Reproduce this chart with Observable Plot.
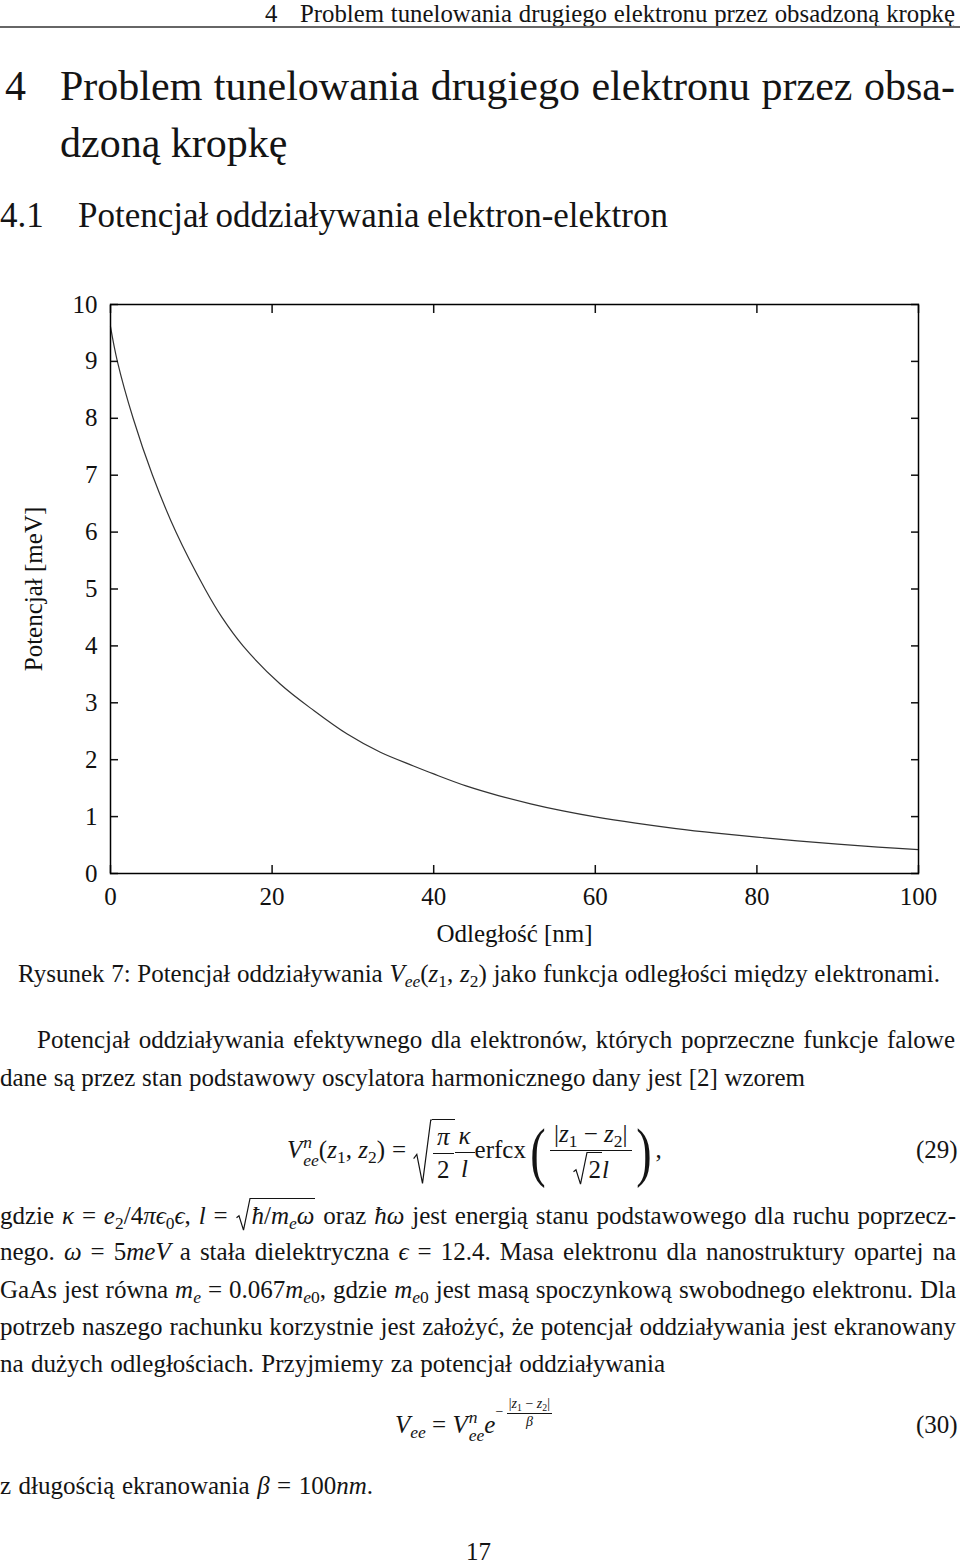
<!DOCTYPE html>
<html lang="pl"><head><meta charset="utf-8">
<script src="https://cdn.jsdelivr.net/npm/d3@7"></script>
<script src="https://cdn.jsdelivr.net/npm/@observablehq/plot@0.6"></script>
<style>
html,body{margin:0;padding:0;background:#fff;}
#page{position:relative;width:960px;height:1566px;overflow:hidden;font-family:"Liberation Serif","Times New Roman",serif;color:#141414;}
.ln{position:absolute;white-space:nowrap;font-size:25px;line-height:32.5px;}
.h1{font-size:42px;line-height:54px;}
.h2{font-size:35px;line-height:45px;}
.hd{font-size:24.8px;line-height:26px;}
sub{font-size:0.7em;vertical-align:-0.3em;line-height:0;}
sup{font-size:0.7em;vertical-align:0.45em;line-height:0;}
.ss{display:inline-flex;flex-direction:column;font-size:0.7em;line-height:1.0;vertical-align:0.55em;margin-left:1px;}
.op{margin:0 7px;}
.frac{display:inline-flex;flex-direction:column;align-items:center;vertical-align:middle;line-height:1.2;}
.frac>.num{border-bottom:1.2px solid #141414;padding:0 4px 1px;}
.frac>.den{padding:1px 4px 0;}
.sqrt{position:relative;display:inline-block;padding-left:19px;vertical-align:middle;line-height:1.2;}
.sqrt>svg{position:absolute;left:0;top:0;width:19px;height:100%;overflow:visible;}
.sqrt>.rc{display:inline-block;border-top:1.2px solid #141414;padding:2px 1px 0 1px;}
.sqrt.inl{vertical-align:baseline;padding-left:15px;}
.sqrt.inl>svg{width:15px;}
.big{display:inline-block;font-size:66px;line-height:66px;vertical-align:middle;transform:scaleX(0.7);font-weight:300;margin:0 1px;}
.exp{font-size:14px;vertical-align:17px;line-height:0;}
.exp .frac{line-height:1.1;}
.exp .frac>.num{border-bottom:1px solid #141414;padding:0 2px 1px;}
.exp .frac>.den{padding:0 2px;}
#chart{position:absolute;left:0;top:280px;}
#rule{position:absolute;left:0;top:26px;width:960px;height:2px;background:#666;}
</style></head>
<body>
<div id="page">
  <div class="ln hd" style="left:265px;top:1px;">4</div>
  <div class="ln hd fit" data-w="655" style="left:300px;top:1px;">Problem tunelowania drugiego elektronu przez obsadzoną kropkę</div>
  <div id="rule"></div>

  <div class="ln h1" style="left:5px;top:59px;">4</div>
  <div class="ln h1 fit" data-w="895" style="left:60px;top:59px;">Problem tunelowania drugiego elektronu przez obsa-</div>
  <div class="ln h1" style="left:60px;top:116px;">dzoną kropkę</div>

  <div class="ln h2" style="left:0px;top:193px;">4.1</div>
  <div class="ln h2 fit" data-w="590" style="left:78px;top:193px;">Potencjał oddziaływania elektron-elektron</div>

  <div id="chart"></div>

  <div class="ln fit" data-w="922" style="left:18px;top:958px;">Rysunek 7: Potencjał oddziaływania <i>V</i><sub><i>ee</i></sub>(<i>z</i><sub>1</sub>, <i>z</i><sub>2</sub>) jako funkcja odległości między elektronami.</div>

  <div class="ln fit" data-w="918" style="left:37px;top:1024px;">Potencjał oddziaływania efektywnego dla elektronów, których poprzeczne funkcje falowe</div>
  <div class="ln fit" data-w="805" style="left:0px;top:1062px;">dane są przez stan podstawowy oscylatora harmonicznego dany jest [2] wzorem</div>

  <div class="ln" style="left:287px;top:1112px;line-height:76px;height:76px;"><i>V</i><span class="ss"><i>n</i><i>ee</i></span>(<i>z</i><sub>1</sub>, <i>z</i><sub>2</sub>)<span class="op">=</span><span class="sqrt"><svg viewBox="0 0 15 40" preserveAspectRatio="none"><path d="M0.5,24 L3,21.5 L7.5,39 L14,0.6 L15,0.6" fill="none" stroke="#141414" stroke-width="1.2" vector-effect="non-scaling-stroke"/></svg><span class="rc"><span class="frac"><span class="num"><i>π</i></span><span class="den">2</span></span></span></span><span class="frac"><span class="num"><i>κ</i></span><span class="den"><i>l</i></span></span>erfcx<span class="big">(</span><span class="frac"><span class="num">|<i>z</i><sub>1</sub> − <i>z</i><sub>2</sub>|</span><span class="den"><span class="sqrt inl"><svg viewBox="0 0 15 40" preserveAspectRatio="none"><path d="M0.5,24 L3,21.5 L7.5,39 L14,0.6 L15,0.6" fill="none" stroke="#141414" stroke-width="1.2" vector-effect="non-scaling-stroke"/></svg><span class="rc">2</span></span><i>l</i></span></span><span class="big">)</span>,</div>
  <div class="ln" style="left:916px;top:1112px;line-height:76px;">(29)</div>

  <div class="ln fit" data-w="956" style="left:0px;top:1198px;">gdzie <i>κ</i> = <i>e</i><sub>2</sub>/4<i>πϵ</i><sub>0</sub><i>ϵ</i>, <i>l</i> = <span class="sqrt inl"><svg viewBox="0 0 15 40" preserveAspectRatio="none"><path d="M0.5,24 L3,21.5 L7.5,39 L14,0.6 L15,0.6" fill="none" stroke="#141414" stroke-width="1.2" vector-effect="non-scaling-stroke"/></svg><span class="rc"><i>ħ</i>/<i>m</i><sub><i>e</i></sub><i>ω</i></span></span> oraz <i>ħω</i> jest energią stanu podstawowego dla ruchu poprzecz-</div>
  <div class="ln fit" data-w="956" style="left:0px;top:1236px;">nego. <i>ω</i> = 5<i>meV</i> a stała dielektryczna <i>ϵ</i> = 12.4. Masa elektronu dla nanostruktury opartej na</div>
  <div class="ln fit" data-w="956" style="left:0px;top:1274px;">GaAs jest równa <i>m</i><sub><i>e</i></sub> = 0.067<i>m</i><sub><i>e</i>0</sub>, gdzie <i>m</i><sub><i>e</i>0</sub> jest masą spoczynkową swobodnego elektronu. Dla</div>
  <div class="ln fit" data-w="956" style="left:0px;top:1311px;">potrzeb naszego rachunku korzystnie jest założyć, że potencjał oddziaływania jest ekranowany</div>
  <div class="ln fit" data-w="665" style="left:0px;top:1348px;">na dużych odległościach. Przyjmiemy za potencjał oddziaływania</div>

  <div class="ln" style="left:395px;top:1395px;line-height:60px;"><i>V</i><sub><i>ee</i></sub> = <i>V</i><span class="ss"><i>n</i><i>ee</i></span><i>e</i><span class="exp">− <span class="frac"><span class="num">|<i>z</i><sub>1</sub> − <i>z</i><sub>2</sub>|</span><span class="den"><i>β</i></span></span></span></div>
  <div class="ln" style="left:916px;top:1395px;line-height:60px;">(30)</div>

  <div class="ln fit" data-w="373" style="left:0px;top:1470px;">z długością ekranowania <i>β</i> = 100<i>nm</i>.</div>

  <div class="ln" style="left:466px;top:1536px;">17</div>
</div>

<script>
// Values
const distance  = [0, 0.85, 2.8, 5.2, 8.1, 11.7, 13.8, 16.4, 21, 25.2, 29.3, 33.4, 37.5, 40, 44, 48, 52, 56, 60, 65, 70, 75, 80, 85, 90, 95, 100];
const potential = [9.61, 9.0, 8.0, 7.0, 6.0, 5.0, 4.5, 4.0, 3.33, 2.86, 2.45, 2.13, 1.89, 1.75, 1.54, 1.37, 1.225, 1.10, 0.995, 0.885, 0.79, 0.71, 0.64, 0.575, 0.515, 0.465, 0.42];
const xTicks = [0, 20, 40, 60, 80, 100];
const yTicks = [0, 1, 2, 3, 4, 5, 6, 7, 8, 9, 10];
const xLabel = "Odległość [nm]";
const yLabel = "Potencjał [meV]";

const data = distance.map((d, i) => ({distance: d, potential: potential[i]}));

const chart = Plot.plot({
  width: 960,
  height: 680,
  marginLeft: 110,
  marginRight: 42,
  marginTop: 24,
  marginBottom: 87,
  style: {fontFamily: '"Liberation Serif", "Times New Roman", serif', fontSize: "25px", color: "#111", background: "#fff", overflow: "visible"},
  x: {domain: [0, 100], label: null},
  y: {domain: [0, 10], label: null},
  marks: [
    Plot.line(data, {x: "distance", y: "potential", stroke: "#333", strokeWidth: 1.2, curve: "catmull-rom"}),
    Plot.axisX(xTicks, {anchor: "bottom", tickSize: -8, tickPadding: 22, strokeWidth: 1.5, tickFormat: "d", label: null}),
    Plot.axisX(xTicks, {anchor: "top", tickSize: -8, strokeWidth: 1.5, tickFormat: () => "", label: null}),
    Plot.axisY(yTicks, {anchor: "left", tickSize: -8, tickPadding: 21, strokeWidth: 1.5, tickFormat: "d", label: null}),
    Plot.axisY(yTicks, {anchor: "right", tickSize: -8, strokeWidth: 1.5, tickFormat: () => "", label: null}),
    Plot.frame({stroke: "#000", strokeWidth: 1.5}),
    Plot.text([xLabel], {text: d => d, frameAnchor: "bottom", lineAnchor: "middle", dy: 60, fontSize: 25}),
    Plot.text([yLabel], {text: d => d, frameAnchor: "left", textAnchor: "middle", lineAnchor: "middle", dx: -77, rotate: -90, fontSize: 25})
  ]
});
document.getElementById("chart").appendChild(chart);

function fit(el) {
  const W = +el.dataset.w;
  const n = (el.textContent.replace(/\s+/g, " ").trim().match(/ /g) || []).length;
  if (!n) return;
  for (let k = 0; k < 3; k++) {
    const w = el.getBoundingClientRect().width;
    const cur = parseFloat(el.style.wordSpacing) || 0;
    el.style.wordSpacing = (cur + (W - w) / n) + "px";
  }
}
document.querySelectorAll(".fit").forEach(fit);
</script>
</body></html>
